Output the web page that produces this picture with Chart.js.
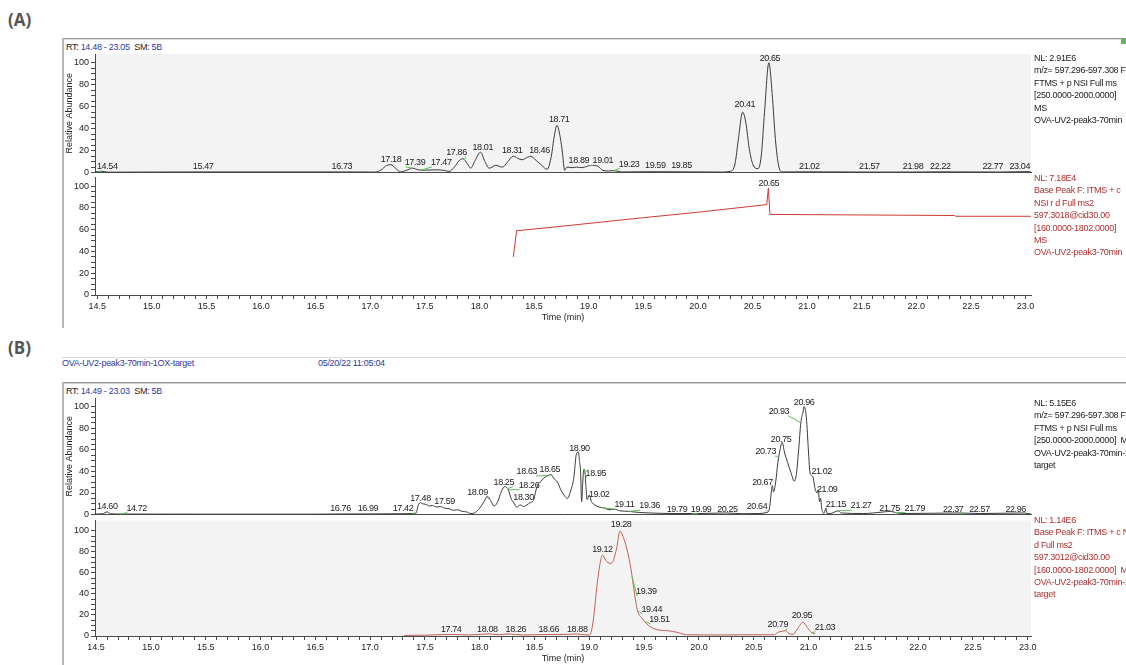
<!DOCTYPE html>
<html>
<head>
<meta charset="utf-8">
<script src="https://cdn.jsdelivr.net/npm/chart.js@4.4.0/dist/chart.umd.min.js"></script>
<style>
  body { margin:0; width:1126px; height:665px; overflow:hidden; background:#fff; position:relative;
         font-family:"Liberation Sans", Arial, sans-serif; }
  .abs { position:absolute; }
  .tag { font-family:"Open Sans","Noto Sans",sans-serif; font-weight:700; font-size:17px; color:#555; }
  .txt { font-size:9px; line-height:12.4px; white-space:nowrap; color:#222; letter-spacing:-0.3px; }
  .blue { color:#2f3aa0; }
  .red { color:#b03030; }
  canvas { position:absolute; }
</style>
</head>
<body>

<div class="abs tag" style="left:8px;top:8px">(A)</div>
<div class="abs" style="left:62px;top:38px;width:1064px;height:1px;background:#9a9a9a"></div>
<div class="abs" style="left:62px;top:39px;width:1064px;height:1px;background:#dadada"></div>
<div class="abs" style="left:62px;top:38px;width:2px;height:290px;background:#b4b4b4"></div>
<div class="abs" style="left:1121px;top:38px;width:5px;height:6px;background:#5cb85c"></div>
<div class="abs txt" id="aRt" style="left:66px;top:41px"></div>

<div class="abs tag" style="left:8px;top:336px">(B)</div>
<div class="abs" style="left:62px;top:357px;width:1064px;height:1px;background:#dcdcdc"></div>
<div class="abs txt blue" id="bHead" style="left:62px;top:357px"></div>
<div class="abs txt blue" id="bStamp" style="left:318px;top:357px"></div>
<div class="abs" style="left:62px;top:382px;width:1064px;height:1px;background:#999"></div>
<div class="abs" style="left:62px;top:383px;width:1064px;height:1px;background:#d0d0d0"></div>
<div class="abs" style="left:62px;top:382px;width:2px;height:283px;background:#b4b4b4"></div>
<div class="abs txt" id="bRt" style="left:66px;top:385px"></div>

<canvas id="aMs"></canvas>
<canvas id="aMs2"></canvas>
<canvas id="bMs"></canvas>
<canvas id="bMs2"></canvas>

<div class="abs txt" id="aMsInfo" style="left:1034px;top:52px"></div>
<div class="abs txt red" id="aMs2Info" style="left:1034px;top:172px"></div>
<div class="abs txt" id="bMsInfo" style="left:1034px;top:397px"></div>
<div class="abs txt red" id="bMs2Info" style="left:1034px;top:514px"></div>

<script>
// ---- retention time windows ----
const aRtRange = [14.48, 23.05];
const bRtRange = [14.49, 23.03];

// ---- (A) XIC m/z 597.296-597.308 ----
const aMsTime = [14.48, 14.54, 14.60, 15.47, 16.73, 17.05, 17.10, 17.15, 17.19, 17.23, 17.28, 17.33, 17.39, 17.44,
  17.50, 17.60, 17.68, 17.72, 17.77, 17.82, 17.85, 17.89, 17.92, 17.96, 18.01, 18.05, 18.09, 18.15, 18.21, 18.26,
  18.31, 18.35, 18.39, 18.44, 18.47, 18.52, 18.57, 18.62, 18.66, 18.68, 18.71, 18.74, 18.76, 18.78, 18.80, 18.85,
  18.89, 18.94, 18.98, 19.02, 19.08, 19.13, 19.18, 19.23, 19.30, 19.59, 19.85, 20.20, 20.30, 20.34, 20.37, 20.41,
  20.44, 20.47, 20.51, 20.55, 20.58, 20.61, 20.65, 20.68, 20.71, 20.74, 20.77, 21.02, 21.57, 21.98, 22.22, 22.77,
  23.04, 23.05];
const aMsAbund = [0.5, 1.2, 0.4, 0.6, 0.6, 0.5, 2.5, 6.5, 7.2, 4, 0.6, 2, 4, 2.5,
  2.2, 2.5, 2, 1, 5, 11.5, 12.6, 8, 4, 11, 18.6, 10, 4, 6.6, 5, 10,
  15, 13, 11.7, 14, 14.7, 11, 6.6, 3, 16, 30, 43, 32, 18, 2, 5, 4.5,
  5, 4.5, 5.5, 6.6, 6, 2, 1.5, 1.8, 0.6, 0.8, 0.7, 0.5, 1.2, 8, 30, 55,
  45, 22, 6, 3.6, 15, 55, 100, 72, 30, 6, 0.6, 0.7, 0.5, 0.5, 0.7, 0.5,
  0.9, 0.5];
const aMsPeakRt     = [14.54, 15.47, 16.73, 17.18, 17.39, 17.47, 17.86, 18.01, 18.31, 18.46, 18.71, 18.89, 19.01, 19.23, 19.59, 19.85, 20.41, 20.65, 21.02, 21.57, 21.98, 22.22, 22.77, 23.04];
const aMsLabelRt    = [14.56, 15.47, 16.74, 17.19, 17.41, 17.65, 17.79, 18.03, 18.30, 18.55, 18.73, 18.91, 19.13, 19.37, 19.61, 19.85, 20.43, 20.66, 21.02, 21.57, 21.97, 22.22, 22.70, 22.95];
const aMsLabelLevel = [3, 3, 3, 9.6, 7, 7, 16, 21, 17.5, 17.5, 46, 8.5, 8.5, 5.5, 4, 4, 60, 102, 3, 3, 3, 3, 3, 3];
const aMsLeader     = [1, 0, 0, 0, 1, 1, 1, 0, 0, 1, 0, 0, 1, 1, 0, 0, 0, 0, 0, 0, 0, 0, 0, 1];
const aMsInfo = ['NL: 2.91E6', 'm/z= 597.296-597.308 F:', 'FTMS + p NSI Full ms', '[250.0000-2000.0000]', 'MS', 'OVA-UV2-peak3-70min'];

// ---- (A) base peak ms2 597.3018 ----
const aMs2Time  = [18.31, 18.34, 18.74, 19.50, 20.00, 20.63, 20.645, 20.66, 21.50, 22.35, 22.36, 23.05];
const aMs2Abund = [35, 59, 63, 71, 76, 83, 98, 74, 73.5, 73, 72.3, 72.3];
const aMs2PeakRt = [20.65];
const aMs2LabelRt = [20.65];
const aMs2LabelLevel = [100.5];
const aMs2Leader = [0];
const aMs2Info = ['NL: 7.18E4', 'Base Peak F: ITMS + c', 'NSI r d Full ms2', '597.3018@cid30.00', '[160.0000-1802.0000]', 'MS', 'OVA-UV2-peak3-70min'];

// ---- (B) XIC m/z 597.296-597.308 ----
const bMsTime = [14.49, 14.56, 14.60, 14.63, 14.72, 15.50, 16.50, 16.76, 16.99, 17.30, 17.40, 17.42, 17.44, 17.46,
  17.48, 17.51, 17.54, 17.57, 17.60, 17.64, 17.68, 17.72, 17.76, 17.80, 17.84, 17.88, 17.92, 17.96, 18.00, 18.04,
  18.07, 18.10, 18.13, 18.16, 18.20, 18.23, 18.26, 18.29, 18.31, 18.34, 18.37, 18.40, 18.43, 18.46, 18.49, 18.52,
  18.56, 18.60, 18.63, 18.65, 18.68, 18.71, 18.74, 18.77, 18.80, 18.83, 18.86, 18.88, 18.90, 18.91, 18.92, 18.93,
  18.94, 18.95, 18.96, 18.97, 18.98, 19.00, 19.02, 19.05, 19.09, 19.14, 19.18, 19.23, 19.28, 19.36, 19.45, 19.55,
  19.79, 19.99, 20.25, 20.40, 20.55, 20.62, 20.64, 20.66, 20.67, 20.68, 20.70, 20.72, 20.74, 20.76, 20.78, 20.81,
  20.84, 20.87, 20.89, 20.91, 20.93, 20.95, 20.96, 20.98, 21.00, 21.01, 21.02, 21.04, 21.06, 21.08, 21.09, 21.10,
  21.11, 21.12, 21.14, 21.16, 21.17, 21.20, 21.27, 21.30, 21.50, 21.69, 21.75, 21.79, 21.85, 22.37, 22.57, 22.96,
  23.03];
const bMsAbund = [0.5, 0.8, 2.5, 0.8, 0.5, 0.4, 0.4, 0.6, 0.6, 0.8, 1, 1.5, 9, 11,
  10, 9.5, 8, 8.5, 7, 7.5, 6, 5.5, 4, 4.5, 3, 2.5, 1, 2, 6, 12,
  17, 13, 8, 11, 22, 26, 23, 14, 11, 7, 9, 7.5, 9, 11, 13, 25,
  31, 35, 36.5, 37, 33, 30, 23, 18, 15, 22, 35, 55, 58, 50, 40, 12,
  30, 42, 40, 25, 14, 18, 12, 9, 7, 6, 4.5, 5, 3.5, 3, 2, 1.5,
  1, 1, 1.5, 0.8, 1, 2, 4, 20, 27, 21, 30, 48, 60, 67, 58, 48,
  39, 31, 38, 60, 85, 95, 100, 90, 58, 42, 37, 35, 24, 20, 23, 12,
  15, 6, 1, 6, 1, 1, 3.5, 1.5, 1, 2.5, 3, 2, 1, 1.5, 1, 1.5,
  0.5];
const bMsPeakRt = [14.60, 14.72, 16.76, 16.99, 17.42, 17.48, 17.59, 18.09, 18.25, 18.26, 18.30, 18.63, 18.65, 18.90,
  18.95, 19.02, 19.11, 19.36, 19.79, 19.99, 20.25, 20.64, 20.67, 20.73, 20.75, 20.93, 20.96, 21.02, 21.09, 21.15,
  21.27, 21.75, 21.79, 22.37, 22.57, 22.96];
const bMsLabelRt = [14.58, 14.87, 16.73, 16.98, 17.30, 17.46, 17.68, 17.98, 18.22, 18.45, 18.40, 18.43, 18.64, 18.91,
  19.06, 19.09, 19.32, 19.55, 19.80, 20.02, 20.26, 20.53, 20.58, 20.61, 20.75, 20.73, 20.96, 21.12, 21.17, 21.25,
  21.48, 21.74, 21.97, 22.32, 22.56, 22.89];
const bMsLabelLevel = [5, 3.7, 3, 3, 3, 13, 10, 18, 27.7, 25, 13.8, 37.5, 39, 59,
  36, 16, 6.8, 6, 2.5, 2.5, 2.5, 5, 27.7, 56, 66.8, 93.5, 101.5, 37.5, 20.6, 6.8,
  6, 3.7, 3.7, 2.5, 2.5, 2.5];
const bMsLeader = [0, 1, 0, 0, 1, 0, 1, 1, 1, 1, 1, 1, 0, 0,
  1, 1, 1, 1, 0, 1, 0, 1, 1, 1, 0, 1, 0, 1, 1, 1,
  1, 0, 1, 1, 0, 1];
const bMsInfo = ['NL: 5.15E6', 'm/z= 597.296-597.308 F:', 'FTMS + p NSI Full ms', '[250.0000-2000.0000]&nbsp;&nbsp;MS', 'OVA-UV2-peak3-70min-1OX-', 'target'];

// ---- (B) base peak ms2 597.3012 ----
const bMs2Time = [17.31, 17.50, 17.74, 17.90, 18.08, 18.18, 18.26, 18.40, 18.66, 18.80, 18.88, 18.95, 19.00, 19.02,
  19.04, 19.07, 19.10, 19.12, 19.15, 19.19, 19.22, 19.25, 19.28, 19.31, 19.34, 19.38, 19.41, 19.44, 19.48, 19.54,
  19.62, 19.72, 19.80, 19.89, 20.20, 20.50, 20.69, 20.72, 20.76, 20.79, 20.82, 20.86, 20.90, 20.95, 20.99, 21.03,
  21.06];
const bMs2Abund = [0.5, 0.8, 1.5, 1, 2, 1.2, 2, 1, 1.5, 1.5, 2, 1.2, 1, 5,
  18, 48, 70, 77, 72, 69, 72, 84, 100, 94, 84, 64, 42, 24, 17, 10,
  6, 5, 3.5, 1.2, 1, 1.2, 1.2, 3.5, 4.5, 5, 2.5, 1.5, 7, 13, 8, 3,
  2];
const bMs2PeakRt = [17.74, 18.08, 18.26, 18.66, 18.88, 19.12, 19.28, 19.39, 19.44, 19.51, 20.79, 20.95, 21.03];
const bMs2LabelRt = [17.74, 18.07, 18.33, 18.63, 18.89, 19.12, 19.29, 19.52, 19.57, 19.64, 20.72, 20.94, 21.15];
const bMs2LabelLevel = [4, 4, 4, 4, 4, 80, 104, 40, 23, 13.5, 9, 17, 6];
const bMs2Leader = [0, 0, 1, 0, 0, 0, 0, 1, 1, 1, 1, 0, 1];
const bMs2Info = ['NL: 1.14E6', 'Base Peak F: ITMS + c NSI r', 'd Full ms2', '597.3012@cid30.00', '[160.0000-1802.0000]&nbsp;&nbsp;MS', 'OVA-UV2-peak3-70min-1OX-', 'target'];

const bFileName = 'OVA-UV2-peak3-70min-1OX-target';
const bAcquired = '05/20/22 11:05:04';

// ---- text blocks ----
const rtLine = r => `RT: <span class="blue">${r[0].toFixed(2)} - ${r[1].toFixed(2)}</span>&nbsp;&nbsp;SM: <span class="blue">5B</span>`;
document.getElementById('aRt').innerHTML = rtLine(aRtRange);
document.getElementById('bRt').innerHTML = rtLine(bRtRange);
document.getElementById('bHead').textContent = bFileName;
document.getElementById('bStamp').textContent = bAcquired;
[['aMsInfo', aMsInfo], ['aMs2Info', aMs2Info], ['bMsInfo', bMsInfo], ['bMs2Info', bMs2Info]].forEach(([id, lines]) => {
    document.getElementById(id).innerHTML = lines.join('<br>');
});

Chart.defaults.font.family = '"Liberation Sans", Arial, sans-serif';
Chart.defaults.font.size = 9;
Chart.defaults.color = '#222';

function valueAt(ts, vs, t) {
    if (t <= ts[0]) return vs[0];
    for (let i = 1; i < ts.length; i++) {
        if (t <= ts[i]) {
            const f = (t - ts[i - 1]) / (ts[i] - ts[i - 1]);
            return vs[i - 1] + f * (vs[i] - vs[i - 1]);
        }
    }
    return vs[vs.length - 1];
}

// light plot background
const plotBg = {
    id: 'plotBg',
    beforeDraw(chart, args, opts) {
        if (!opts.color) return;
        const { ctx, chartArea: a } = chart;
        ctx.save();
        ctx.fillStyle = opts.color;
        ctx.fillRect(a.left, a.top, a.right - a.left, a.bottom - a.top);
        ctx.restore();
    }
};

// retention time labels over the peaks, green leader to the peak
const peakLabels = {
    id: 'peakLabels',
    afterDatasetsDraw(chart, args, opts) {
        const set = opts.set;
        if (!set) return;
        const { ctx, chartArea: a, scales: { x, y } } = chart;
        ctx.save();
        ctx.font = '9px "Liberation Sans", Arial, sans-serif';
        if ('letterSpacing' in ctx) ctx.letterSpacing = '-0.4px';
        ctx.textAlign = 'center';
        ctx.textBaseline = 'alphabetic';
        set.rt.forEach((rt, i) => {
            const text = rt.toFixed(2);
            const w = ctx.measureText(text).width;
            let cx = x.getPixelForValue(set.at[i]);
            cx = Math.min(Math.max(cx, a.left + w / 2 + 2), a.right - w / 2 - 1);
            const by = y.getPixelForValue(set.level[i]);
            if (set.leader[i]) {
                const px = x.getPixelForValue(rt);
                const py = y.getPixelForValue(valueAt(set.times, set.values, rt));
                const ex = px <= cx ? cx - w / 2 + 1 : cx + w / 2 - 1;
                ctx.strokeStyle = '#5fbf5f';
                ctx.lineWidth = 1;
                ctx.beginPath();
                ctx.moveTo(px, py);
                ctx.lineTo(ex, by + 2);
                ctx.stroke();
            }
            ctx.fillStyle = '#222';
            ctx.fillText(text, cx, by);
        });
        ctx.restore();
    }
};

const isStep = (v, s) => Math.abs(v / s - Math.round(v / s)) < 1e-6;

function drawTrace(p) {
    const canvas = document.getElementById(p.id);
    const padTop = p.axis ? 6 : 12;
    const padBottom = p.axis ? 0 : 6;
    const axisH = p.axis ? 28 : 0;
    canvas.width = 1064;
    canvas.height = p.bottom - p.top + padTop + padBottom + axisH;
    canvas.style.left = '62px';
    canvas.style.top = (p.top - padTop) + 'px';

    return new Chart(canvas, {
        type: 'line',
        data: {
            datasets: [{
                data: p.times.map((t, i) => ({ x: t, y: p.values[i] })),
                borderColor: p.line,
                borderWidth: 1,
                pointRadius: 0,
                fill: false,
                tension: p.smooth ? 0.4 : 0,
                cubicInterpolationMode: p.smooth ? 'monotone' : 'default'
            }]
        },
        options: {
            responsive: false,
            animation: false,
            devicePixelRatio: 1,
            layout: { padding: { left: 0, right: 95, top: padTop, bottom: padBottom } },
            plugins: {
                legend: { display: false },
                tooltip: { enabled: false },
                plotBg: { color: p.bg },
                peakLabels: { set: { ...p.labels, times: p.times, values: p.values } }
            },
            scales: {
                x: {
                    type: 'linear',
                    min: p.range[0],
                    max: p.range[1],
                    afterFit: s => { s.height = axisH; },
                    border: { display: true, color: '#4a4a4a', width: 1 },
                    grid: { display: p.axis, drawOnChartArea: false, tickLength: 4, tickColor: '#4a4a4a' },
                    ticks: {
                        display: p.axis,
                        stepSize: 0.1,
                        includeBounds: false,
                        autoSkip: false,
                        maxRotation: 0,
                        padding: 2,
                        callback: v => isStep(v, 0.5) ? v.toFixed(1) : ''
                    },
                    title: { display: p.axis, text: 'Time (min)', padding: { top: 0, bottom: 0 } }
                },
                y: {
                    min: 0,
                    max: p.yMax,
                    afterFit: s => { s.width = 33; },
                    border: { display: true, color: '#4a4a4a', width: 1 },
                    grid: {
                        drawOnChartArea: false,
                        tickLength: 4,
                        tickColor: c => (c.tick && c.tick.value > 100) ? 'rgba(0,0,0,0)' : '#4a4a4a'
                    },
                    ticks: {
                        stepSize: 5,
                        includeBounds: false,
                        autoSkip: false,
                        padding: 2,
                        callback: v => (isStep(v, 20) && v <= 100) ? String(v) : ''
                    },
                    title: { display: !p.axis, text: 'Relative Abundance', padding: { top: 2, bottom: 0 } }
                }
            }
        },
        plugins: [plotBg, peakLabels]
    });
}

drawTrace({ id: 'aMs', times: aMsTime, values: aMsAbund, range: aRtRange, top: 54, bottom: 174, yMax: 108,
    axis: false, bg: '#f3f3f3', line: '#3a3a3a', smooth: true,
    labels: { rt: aMsPeakRt, at: aMsLabelRt, level: aMsLabelLevel, leader: aMsLeader } });
drawTrace({ id: 'aMs2', times: aMs2Time, values: aMs2Abund, range: aRtRange, top: 176, bottom: 295, yMax: 108,
    axis: true, bg: null, line: '#cc3b33', smooth: false,
    labels: { rt: aMs2PeakRt, at: aMs2LabelRt, level: aMs2LabelLevel, leader: aMs2Leader } });
drawTrace({ id: 'bMs', times: bMsTime, values: bMsAbund, range: bRtRange, top: 398, bottom: 516, yMax: 108,
    axis: false, bg: null, line: '#3a3a3a', smooth: true,
    labels: { rt: bMsPeakRt, at: bMsLabelRt, level: bMsLabelLevel, leader: bMsLeader } });
drawTrace({ id: 'bMs2', times: bMs2Time, values: bMs2Abund, range: bRtRange, top: 519, bottom: 636, yMax: 110,
    axis: true, bg: '#f3f3f3', line: '#c0605a', smooth: true,
    labels: { rt: bMs2PeakRt, at: bMs2LabelRt, level: bMs2LabelLevel, leader: bMs2Leader } });
</script>
</body>
</html>
